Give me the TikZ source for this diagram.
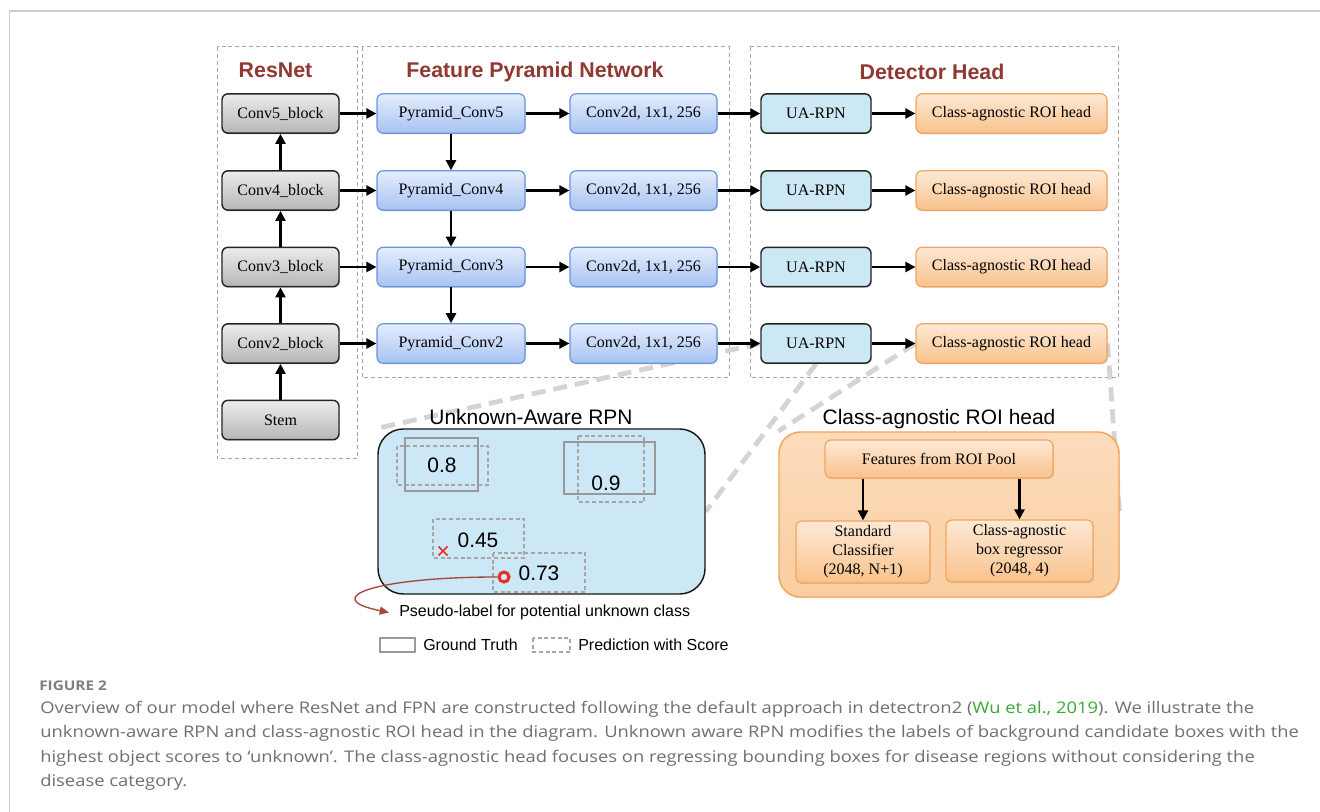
\documentclass[tikz,border=0pt]{standalone}
\usepackage{fontspec}
\setmainfont{Liberation Serif}
\setsansfont{Liberation Sans}
\newfontfamily\capfont{Open Sans}
\usetikzlibrary{arrows.meta,shadows,backgrounds}
\definecolor{ttl}{RGB}{146,56,50}
\definecolor{gtop}{RGB}{236,236,236}
\definecolor{gbot}{RGB}{182,182,182}
\definecolor{btop}{RGB}{228,237,253}
\definecolor{bbot}{RGB}{168,195,242}
\definecolor{bbd}{RGB}{104,148,222}
\definecolor{uaf}{RGB}{205,232,245}
\definecolor{otop}{RGB}{253,233,213}
\definecolor{obot}{RGB}{249,194,140}
\definecolor{obd}{RGB}{241,165,95}
\definecolor{rpnf}{RGB}{204,231,245}
\definecolor{ctop}{RGB}{252,220,188}
\definecolor{cbot}{RGB}{250,206,160}
\definecolor{redc}{RGB}{230,48,35}
\definecolor{pseudo}{RGB}{168,70,60}
\definecolor{zlc}{RGB}{212,212,212}
\definecolor{grpc}{RGB}{165,165,165}
\definecolor{capc}{RGB}{112,112,112}
\definecolor{capg}{RGB}{58,168,54}
\definecolor{framec}{RGB}{204,204,204}
\newcommand\capline[1]{\scalebox{1.15}[1]{#1}}
\tikzset{
  rbox/.style={rectangle, rounded corners=4.5pt, inner sep=0pt, minimum height=29.5pt,
    font=\fontsize{12}{14}\selectfont,
    drop shadow={shadow xshift=0.7pt, shadow yshift=-0.9pt, opacity=0.25}},
  gbox/.style={rbox, draw=black!85, line width=1.1pt, top color=gtop, bottom color=gbot, minimum width=87.75pt},
  pbox/.style={rbox, draw=bbd, line width=0.9pt, top color=btop, bottom color=bbot, minimum width=111pt},
  dbox/.style={rbox, draw=bbd, line width=0.9pt, top color=btop, bottom color=bbot, minimum width=110.25pt},
  ubox/.style={rbox, draw=black!85, line width=1.1pt, fill=uaf, minimum width=82.5pt},
  obox/.style={rbox, draw=obd, line width=0.9pt, top color=otop, bottom color=obot, minimum width=143.25pt},
  ibox/.style={rbox, draw=obd, line width=0.9pt, top color=otop, bottom color=obot, align=center,
    font=\fontsize{12}{14.2}\selectfont},
  arr/.style={line width=1.7pt, -{Triangle[length=7.5pt,width=7.5pt]}},
  grp/.style={draw=grpc, line width=0.75pt, dash pattern=on 3pt off 2.2pt},
  zl/.style={draw=zlc, line width=3.6pt, dash pattern=on 10.5pt off 6pt},
  ttlf/.style={font=\sffamily\bfseries\fontsize{16}{18}\selectfont, text=ttl, inner sep=0pt},
  subt/.style={font=\sffamily\fontsize{15.7}{18}\selectfont, inner sep=0pt},
  scoretxt/.style={font=\sffamily\fontsize{15.7}{18}\selectfont, inner sep=0pt},
  smalltxt/.style={font=\sffamily\fontsize{12}{14}\selectfont, inner sep=0pt},
  gtbox/.style={draw=black!40, line width=0.9pt},
  prbox/.style={draw=black!35, line width=0.8pt, dash pattern=on 3pt off 2pt},
  captext/.style={font=\capfont\fontsize{12}{14}\selectfont, text=capc, inner sep=0pt},
}
\begin{document}
\begin{tikzpicture}[x=0.75pt,y=-0.75pt]
\useasboundingbox (0,0) rectangle (1320,812);
% titles
\node[ttlf, anchor=base] (tres) at (275.5,78) {ResNet};
\node[ttlf, anchor=base] (tfpn) at (535,78) {Feature Pyramid Network};
\node[ttlf, anchor=base] (tdet) at (932,80) {Detector Head};
% ResNet
\node[gbox] (c5) at (280.5,113.5) {Conv5\_block};
\node[gbox] (c4) at (280.5,190.5) {Conv4\_block};
\node[gbox] (c3) at (280.5,267) {Conv3\_block};
\node[gbox] (c2) at (280.5,343.5) {Conv2\_block};
\node[gbox] (stem) at (280.5,420) {Stem};
% FPN
\node[pbox] (p5) at (451,113.5) {Pyramid\_Conv5};
\node[pbox] (p4) at (451,190.5) {Pyramid\_Conv4};
\node[pbox] (p3) at (451,267) {Pyramid\_Conv3};
\node[pbox] (p2) at (451,343.5) {Pyramid\_Conv2};
\node[dbox] (d5) at (643.5,113.5) {Conv2d, 1x1, 256};
\node[dbox] (d4) at (643.5,190.5) {Conv2d, 1x1, 256};
\node[dbox] (d3) at (643.5,267) {Conv2d, 1x1, 256};
\node[dbox] (d2) at (643.5,343.5) {Conv2d, 1x1, 256};
% Detector head
\node[ubox] (u5) at (816,113.5) {UA-RPN};
\node[ubox] (u4) at (816,190.5) {UA-RPN};
\node[ubox] (u3) at (816,267) {UA-RPN};
\node[ubox] (u2) at (816,343.5) {UA-RPN};
\node[obox] (r5) at (1011.5,113.5) {Class-agnostic ROI head};
\node[obox] (r4) at (1011.5,190.5) {Class-agnostic ROI head};
\node[obox] (r3) at (1011.5,267) {Class-agnostic ROI head};
\node[obox] (r2) at (1011.5,343.5) {Class-agnostic ROI head};
% arrows
\foreach \a/\b in {c4/c5,c3/c4,c2/c3,stem/c2,c5/p5,c4/p4,c3/p3,c2/p2,p5/p4,p4/p3,p3/p2,
  p5/d5,p4/d4,p3/d3,p2/d2,d5/u5,d4/u4,d3/u3,d2/u2,u5/r5,u4/r4,u3/r3,u2/r2}
  \draw[arr] (\a) -- (\b);
% RPN panel
\node[subt, anchor=base] (trpn) at (531,425) {Unknown-Aware RPN};
\node[draw=black!90, line width=1.1pt, fill=rpnf, rounded corners=19pt, minimum width=245.25pt,
  minimum height=123.75pt, inner sep=0pt] (rpn) at (541.5,511.5) {};
\draw[gtbox] (405,438) rectangle (478,491);
\draw[prbox] (397,446) rectangle (488,485);
\draw[gtbox] (564,442) rectangle (655,494);
\draw[prbox] (578,436) rectangle (644,502);
\draw[prbox] (433,519) rectangle (524,558);
\draw[prbox] (493,553) rectangle (585,592);
\node[scoretxt, anchor=base] (s08) at (442,473) {0.8};
\node[scoretxt, anchor=base] (s09) at (606,490) {0.9};
\node[scoretxt, anchor=base] (s045) at (478,547) {0.45};
\node[scoretxt, anchor=base] (s073) at (539,580) {0.73};
\draw[redc, line width=1.1pt] (438.5,546.5) -- (447.5,555.5) (438.5,555.5) -- (447.5,546.5);
\node[circle, draw=redc, line width=2.3pt, minimum size=7.5pt, inner sep=0pt] (circ) at (504,577) {};
\node[smalltxt, anchor=base west] (pl) at (399,616) {Pseudo-label for potential unknown class};
\coordinate (ptip) at (389,612.5);
\draw[pseudo, line width=1pt, -{Triangle[length=7pt,width=6pt]}] (circ.west) .. controls (375,577) and (318,598) .. (ptip);
% legend
\draw[gtbox] (380,638) rectangle (415,652);
\node[smalltxt, anchor=base west] (lgt) at (423,650) {Ground Truth};
\draw[prbox] (533,638) rectangle (570,652);
\node[smalltxt, anchor=base west] (lpr) at (578,650) {Prediction with Score};
% CA panel
\node[subt, anchor=base] (tca) at (939,425) {Class-agnostic ROI head};
\node[draw=obd, line width=1.1pt, top color=ctop, bottom color=cbot, rounded corners=16pt, minimum width=255pt,
  minimum height=123.75pt, inner sep=0pt,
  drop shadow={shadow xshift=0.8pt, shadow yshift=-1pt, opacity=0.2}] (ca) at (949,514.5) {};
\node[ibox, minimum width=171pt, minimum height=28.5pt] (feat) at (939,459) {Features from ROI Pool};
\node[ibox, minimum width=100.5pt, minimum height=46.5pt] (sc) at (863,552) {Standard\\Classifier\\(2048, N+1)};
\node[ibox, minimum width=110.25pt, minimum height=46.5pt] (br) at (1019.5,551) {Class-agnostic\\box regressor\\(2048, 4)};
\draw[arr] (feat.south -| sc.north) -- (sc.north);
\draw[arr] (feat.south -| br.north) -- (br.north);
% caption
\node[font=\capfont\bfseries\fontsize{10}{12}\selectfont, text=capc!90, anchor=base west, inner sep=0pt] (fig) at (39,690.5) {\capline{FIGURE 2}};
\node[captext, anchor=base west] (cap1) at (40,713) {\capline{Overview of our model where ResNet and FPN are constructed following the default approach in detectron2 (\textcolor{capg}{Wu et al., 2019}). We illustrate the}};
\node[captext, anchor=base west] (cap2) at (40,737.5) {\capline{unknown-aware RPN and class-agnostic ROI head in the diagram. Unknown aware RPN modifies the labels of background candidate boxes with the}};
\node[captext, anchor=base west] (cap3) at (40,762) {\capline{highest object scores to ‘unknown’. The class-agnostic head focuses on regressing bounding boxes for disease regions without considering the}};
\node[captext, anchor=base west] (cap4) at (40,786.5) {\capline{disease category.}};
% background layer
\begin{scope}[on background layer]
\fill[white] (0,0) rectangle (1320,812);
\draw[framec, line width=0.9pt] (9.5,812) -- (9.5,11) -- (1320,11);
\draw[grp] (217,47) rectangle (357,459);
\draw[grp] (362,47) rectangle (729,378);
\draw[grp] (750,47) rectangle (1118,378);
\draw[zl] (u2.west) -- (rpn.north west);
\draw[zl] (u2.south) -- (rpn.east);
\draw[zl] (r2.west) -- (ca.north west);
\draw[zl] (r2.east) -- (ca.east);
\end{scope}
\end{tikzpicture}
\end{document}
